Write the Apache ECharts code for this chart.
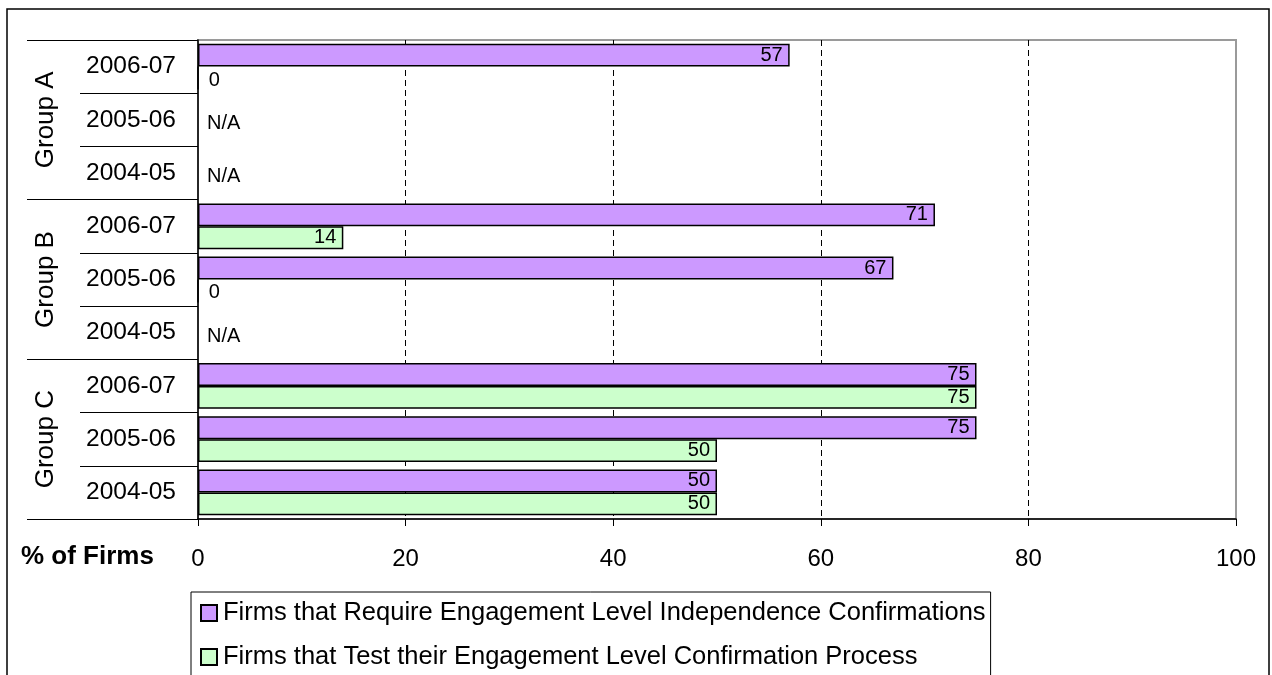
<!DOCTYPE html>
<html>
<head>
<meta charset="utf-8">
<title>Engagement Level Independence Confirmations</title>
<script src="https://cdn.jsdelivr.net/npm/echarts@6/dist/echarts.min.js"></script>
<style>
  html, body { margin: 0; padding: 0; background: #ffffff; }
  #chart { width: 1272px; height: 675px; }
</style>
</head>
<body>
<div id="chart"></div>
<script>
// Survey years per group, listed top to bottom
const years = ['2006-07', '2005-06', '2004-05', '2006-07', '2005-06', '2004-05', '2006-07', '2005-06', '2004-05'];
const groups = ['Group A', 'Group B', 'Group C'];
const xTicks = [0, 20, 40, 60, 80, 100];

// % of firms; null = N/A (not surveyed)
const requireConfirmations = [57, null, null, 71, 67, null, 75, 75, 50];
const testConfirmationProcess = [0, null, null, 14, 0, null, 75, 50, 50];

const seriesNames = [
  'Firms that Require Engagement Level Independence Confirmations',
  'Firms that Test their Engagement Level Confirmation Process'
];

const FONT = '"Liberation Sans", Arial, sans-serif';

const labelBase = {
  show: true,
  position: 'insideRight',
  distance: 7,
  color: '#000',
  fontFamily: FONT,
  fontSize: 20
};

// Build bar items: zero values get their label outside the bar,
// N/A entries (second series only) carry an "N/A" note at the axis.
function buildItems(values, showNA) {
  return values.map(function (v) {
    if (v === null) {
      if (!showNA) return '-';
      return {
        value: 0,
        itemStyle: { borderWidth: 0, color: 'transparent' },
        label: { position: 'right', distance: 9, offset: [0, -8], formatter: 'N/A' }
      };
    }
    if (v === 0) {
      return { value: 0, label: { position: 'right', distance: 10, offset: [0, 2] } };
    }
    return v;
  });
}

const chart = echarts.init(document.getElementById('chart'), null, { renderer: 'canvas' });

chart.setOption({
  animation: false,
  backgroundColor: '#ffffff',
  textStyle: { fontFamily: FONT },
  title: {
    text: '% of Firms',
    left: 21,
    top: 544,
    padding: 0,
    textStyle: { fontFamily: FONT, fontSize: 26, fontWeight: 'bold', color: '#000' }
  },
  graphic: [{
    type: 'rect',
    shape: { x: 7, y: 9, width: 1262, height: 720 },
    style: { fill: 'none', stroke: '#000', lineWidth: 1.5 },
    silent: true,
    z: -1
  }],
  grid: {
    left: 198, right: 36, top: 40, bottom: 156,
    show: true,
    borderColor: '#9a9a9a',
    borderWidth: 2,
    backgroundColor: 'transparent'
  },
  legend: {
    orient: 'vertical',
    left: 191,
    top: 592,
    height: 200,
    padding: [8, 5, 12, 9],
    itemGap: 18,
    itemWidth: 16,
    itemHeight: 16,
    icon: 'rect',
    borderColor: '#000',
    borderWidth: 1,
    backgroundColor: '#fff',
    textStyle: { fontFamily: FONT, fontSize: 25.5, color: '#000', padding: [0, 0, 0, 1] },
    data: seriesNames
  },
  xAxis: {
    type: 'value',
    min: 0, max: 100, interval: 20,
    axisLine: { show: true, lineStyle: { color: '#000', width: 1.5 } },
    axisTick: { show: true, length: 7, lineStyle: { color: '#000', width: 1 } },
    axisLabel: {
      margin: 28, fontSize: 24, color: '#000', fontFamily: FONT,
      formatter: function (v) { return xTicks.indexOf(v) >= 0 ? String(v) : ''; }
    },
    splitLine: {
      show: true,
      showMinLine: false,
      showMaxLine: false,
      lineStyle: { color: '#000', width: 1, type: [6, 4] }
    }
  },
  yAxis: [{
    type: 'category',
    data: years,
    inverse: true,
    position: 'left',
    axisLine: { show: true, lineStyle: { color: '#000', width: 1.5 } },
    axisTick: { show: true, length: 118, lineStyle: { color: '#000', width: 1.2 } },
    axisLabel: { margin: 22, fontSize: 24.5, color: '#000', fontFamily: FONT },
    splitLine: { show: false }
  }, {
    type: 'category',
    data: groups,
    inverse: true,
    position: 'left',
    offset: 0,
    axisLine: { show: false },
    axisTick: { show: true, length: 171, lineStyle: { color: '#000', width: 1.2 } },
    axisLabel: { rotate: 90, margin: 139, fontSize: 26, color: '#000', fontFamily: FONT },
    splitLine: { show: false }
  }],
  series: [{
    name: seriesNames[0],
    type: 'bar',
    yAxisIndex: 0,
    barGap: '0%',
    barCategoryGap: '14%',
    itemStyle: { color: '#CC99FF', borderColor: '#000', borderWidth: 1.5 },
    label: labelBase,
    data: buildItems(requireConfirmations, false)
  }, {
    name: seriesNames[1],
    type: 'bar',
    yAxisIndex: 0,
    barGap: '0%',
    barCategoryGap: '14%',
    itemStyle: { color: '#CCFFCC', borderColor: '#000', borderWidth: 1.5 },
    label: labelBase,
    data: buildItems(testConfirmationProcess, true)
  }]
});
</script>
</body>
</html>
